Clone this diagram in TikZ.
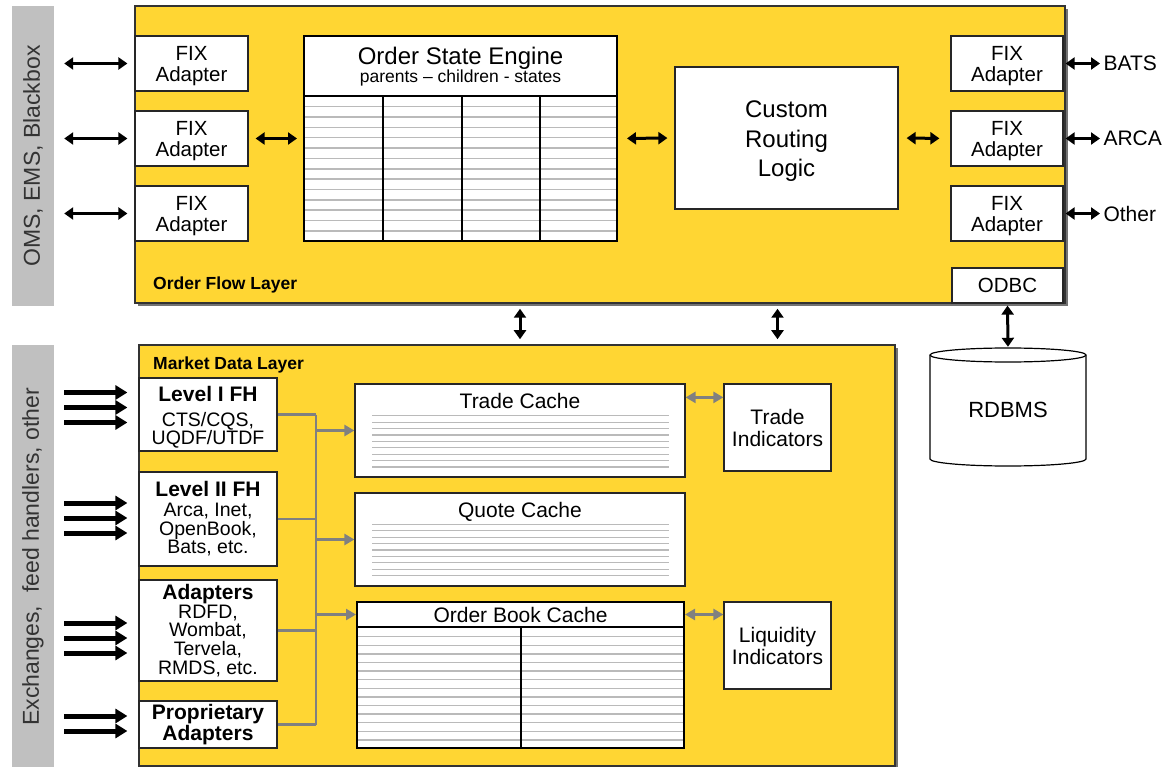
\documentclass[tikz,border=0pt]{standalone}
\usepackage{fontspec}
\setmainfont{Liberation Sans}
\usetikzlibrary{arrows.meta,shadows}
\definecolor{layerfill}{RGB}{255,214,51}
\definecolor{bargray}{RGB}{192,192,192}
\newcommand\fsz[2]{\fontsize{#1}{#2}\selectfont}

\begin{document}
\begin{tikzpicture}[x=1pt,y=-1pt,
        layer/.style={draw=black!80,line width=1.5pt,fill=layerfill,inner sep=0pt,
            drop shadow={shadow xshift=3pt,shadow yshift=-3pt,opacity=1,fill=black!55}},
        bar/.style={fill=bargray,inner sep=0pt},
        box/.style={draw=black!85,line width=1.2pt,fill=white,inner sep=0pt,align=center,
            font=\fsz{20.5}{21}},
        tbl/.style={draw=black,line width=2pt,fill=white,inner sep=0pt},
        rule/.style={draw=black!27,line width=1.5pt},
        dblarrow/.style={{Triangle[length=9pt,width=12pt]}-{Triangle[length=9pt,width=12pt]},
            line width=3pt},
        feed/.style={-{Triangle[length=12pt,width=14pt]},line width=5pt},
        bus/.style={draw=black!50,line width=2.5pt},
        busarrow/.style={bus,-{Triangle[length=10pt,width=11pt]}},
        busdbl/.style={bus,{Triangle[length=10pt,width=11pt]}-{Triangle[length=10pt,width=11pt]}}]
\useasboundingbox (0,0) rectangle (1162,767);

% side bars
\node[bar,minimum width=42pt,minimum height=300pt] (bar1) at (33,156) {};
\node[rotate=90,font=\fsz{23}{25},text=black!80] at (bar1.center) {OMS, EMS, Blackbox};
\node[bar,minimum width=42pt,minimum height=422pt] (bar2) at (33,556) {};
\node[rotate=90,font=\fsz{23}{25},text=black!80] at (33,557) {Exchanges,\ \ feed handlers, other};

% order flow layer
\node[layer,minimum width=930pt,minimum height=297pt] (ofl) at (600,154.5) {};
\node[anchor=base west,inner sep=0pt,font=\bfseries\fsz{17.5}{19}] at (153,290) {Order Flow Layer};

\node[box,minimum width=113pt,minimum height=55pt] (fixL1) at (191.5,63.5) {};
\node[box,minimum width=113pt,minimum height=55pt] (fixL2) at (191.5,138.5) {};
\node[box,minimum width=113pt,minimum height=55pt] (fixL3) at (191.5,213.5) {};
\node[box,minimum width=112pt,minimum height=55pt] (fixR1) at (1007,63.5) {};
\node[box,minimum width=112pt,minimum height=55pt] (fixR2) at (1007,138.5) {};
\node[box,minimum width=112pt,minimum height=55pt] (fixR3) at (1007,213.5) {};
\foreach \n in {fixL1,fixL2,fixL3,fixR1,fixR2,fixR3}
    \node[align=center,font=\fsz{20.5}{21}] at ([yshift=-2.5pt]\n.center) {FIX\\Adapter};

\node[tbl,minimum width=313pt,minimum height=205pt] (ose) at (460.5,138.5) {};
\foreach \k in {0,...,12}
    \draw[rule] (305,{106.7+10.35*\k}) -- (616,{106.7+10.35*\k});
\foreach \cx in {383,462,540}
    \draw[line width=1.5pt] (\cx,96) -- (\cx,241);
\draw[line width=2pt] (304,96) -- (617,96);
\node[anchor=base,font=\fsz{24}{26}] (osetitle) at (460.5,65) {Order State Engine};
\node[anchor=base,font=\fsz{17.5}{19}] at (460.5,83) {parents -- children - states};

\node[box,minimum width=223pt,minimum height=142pt] (crl) at (786.5,138) {};
\node[align=center,font=\fsz{24}{29.5}] at ([yshift=-3.5pt]crl.center) {Custom\\Routing\\Logic};

\node[anchor=west,font=\fsz{21}{22}] (bats) at (1100,63.5) {BATS};
\node[anchor=west,font=\fsz{21}{22}] (arca) at (1100,138.5) {ARCA};
\node[anchor=west,font=\fsz{21}{22}] (other) at (1100,213.5) {Other};

\node[box,minimum width=111pt,minimum height=35pt,font=\fsz{20.5}{22}] (odbc) at (1007.5,285.5) {ODBC};

% database
\filldraw[fill=white,draw=black,line width=1.2pt] (930,355) -- (930,459) arc (180:360:78pt and 7pt)
    -- (1086,355) arc (0:180:78pt and 7pt) -- cycle;
\draw[line width=1.2pt] (930,355) arc (180:360:78pt and 7pt);
\node[minimum width=156pt,minimum height=118pt,inner sep=0pt] (db) at (1008,407) {};
\node[font=\fsz{22}{24}] at ([yshift=-3pt]db.center) {RDBMS};

% market data layer
\node[layer,minimum width=756pt,minimum height=421pt] (mdl) at (517,555.5) {};
\node[anchor=base west,inner sep=0pt,font=\bfseries\fsz{17.5}{19}] at (153,370) {Market Data Layer};

\node[box,minimum width=138pt,minimum height=73pt] (l1) at (208,414.5) {};
\node[align=center,font=\fsz{19.5}{18.7}] at ([yshift=-3pt]l1.center)
    {{\bfseries\fsz{21}{19}Level I FH}\\[6pt]CTS/CQS,\\UQDF/UTDF};
\node[box,minimum width=138pt,minimum height=94pt,font=\fsz{19.5}{18.7}] (l2) at (208,519)
    {{\bfseries\fsz{21}{19}Level II FH}\\[1pt]Arca, Inet,\\OpenBook,\\Bats, etc.};
\node[box,minimum width=138pt,minimum height=101pt,font=\fsz{19.5}{18.8}] (ad) at (208,630.5)
    {{\bfseries\fsz{21}{19}Adapters}\\RDFD,\\Wombat,\\Tervela,\\RMDS, etc.};
\node[box,minimum width=138pt,minimum height=47pt,font=\bfseries\fsz{21}{19}] (pa) at (208,724.5)
    {Proprietary\\Adapters};

\node[box,minimum width=330pt,minimum height=93pt] (tc) at (520,430.5) {};
\node[anchor=base,font=\fsz{21}{23}] at (520,408) {Trade Cache};
\foreach \k in {0,...,8}
    \draw[rule,line width=1.2pt] (372,{415.7+6.4*\k}) -- (669,{415.7+6.4*\k});
\node[box,minimum width=330pt,minimum height=93pt] (qc) at (520,539.5) {};
\node[anchor=base,font=\fsz{21}{23}] at (520,517) {Quote Cache};
\foreach \k in {0,...,8}
    \draw[rule,line width=1.2pt] (372,{524.3+6.4*\k}) -- (669,{524.3+6.4*\k});

\node[tbl,minimum width=327pt,minimum height=121pt] (obc) at (520.5,687.5) {};
\foreach \k in {0,...,12}
    \draw[rule] (358,{636.7+8.6*\k}) -- (683,{636.7+8.6*\k});
\draw[line width=2pt] (521,627) -- (521,748);
\node[tbl,minimum width=327pt,minimum height=25pt] (obch) at (520.5,614.5) {};
\node[anchor=base,font=\fsz{21}{23}] at (520.5,622) {Order Book Cache};

\node[box,minimum width=107pt,minimum height=87pt,font=\fsz{21}{22}] (ti) at (777.5,427.5)
    {Trade\\Indicators};
\node[box,minimum width=107pt,minimum height=87pt,font=\fsz{21}{22}] (li) at (777.5,645.5)
    {Liquidity\\Indicators};

% connectors
\foreach \n in {fixL1,fixL2,fixL3}
    \draw[dblarrow,shorten <=10pt,shorten >=7pt] (\n.west -| bar1.east) -- (\n.west);
\draw[dblarrow,shorten <=7pt,shorten >=6pt] (fixL2.east) -- (ose.west);
\draw[dblarrow,shorten <=9pt,shorten >=7pt] (ose.east) -- (crl.west);
\draw[dblarrow,shorten <=8pt,shorten >=11pt] (crl.east) -- (fixR2.west);
\draw[dblarrow,shorten <=2pt] (fixR1.east) -- (bats.west);
\draw[dblarrow,shorten <=2pt] (fixR2.east) -- (arca.west);
\draw[dblarrow,shorten <=2pt] (fixR3.east) -- (other.west);
\draw[dblarrow,shorten <=5pt,shorten >=5pt] (ofl.south -| tc.north) -- (mdl.north -| tc.north);
\draw[dblarrow,shorten <=5pt,shorten >=5pt] (ofl.south -| ti.north) -- (mdl.north -| ti.north);
\draw[dblarrow,shorten <=2pt,shorten >=1pt] (odbc.south) -- (db.north);

\foreach \n/\off in {l1/22,l1/7,l1/-8,l2/16,l2/1,l2/-14,ad/7.5,ad/-7.5,ad/-22.5,pa/8.5,pa/-6.5}
    \draw[feed,shorten <=10pt,shorten >=11pt] ([yshift=\off pt]\n.west -| bar2.east) -- ([yshift=\off pt]\n.west);

\coordinate (busx) at (316,0);
\foreach \n in {l1,l2,ad,pa}
    \draw[bus] (\n.east) -- (\n.east -| busx);
\draw[bus] (l1.east -| busx) -- (pa.east -| busx);
\draw[busarrow] (tc.west -| busx) -- (tc.west);
\draw[busarrow] (qc.west -| busx) -- (qc.west);
\draw[busarrow] (obch.west -| busx) -- (obch.west);
\draw[busdbl] ([yshift=-14pt]tc.north east) -- ([yshift=-14pt]ti.north west);
\draw[busdbl] (obch.east) -- (obch.east -| li.west);

\end{tikzpicture}
\end{document}
